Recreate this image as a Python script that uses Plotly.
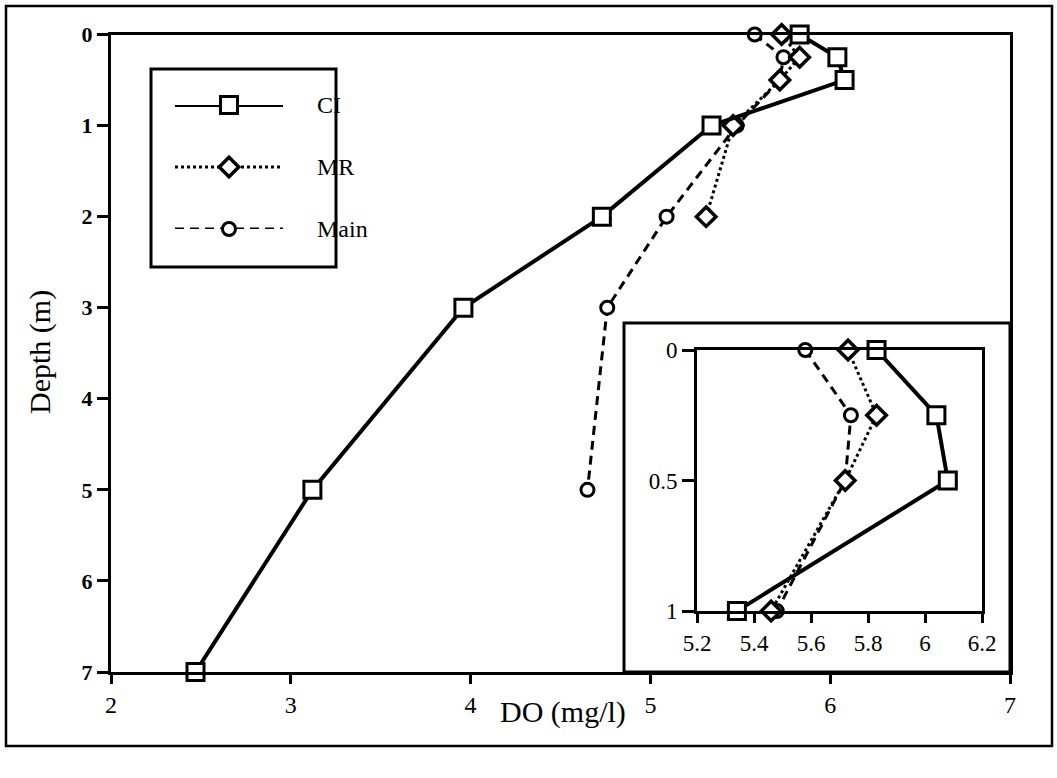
import plotly.graph_objects as go

# Dissolved-oxygen depth profiles for the three stations
ci_depth = [0, 0.25, 0.5, 1, 2, 3, 5, 7]
ci_do = [5.83, 6.04, 6.08, 5.34, 4.73, 3.96, 3.12, 2.47]

mr_depth = [0, 0.25, 0.5, 1, 2]
mr_do = [5.73, 5.83, 5.72, 5.46, 5.31]

main_depth = [0, 0.25, 0.5, 1, 2, 3, 5]
main_do = [5.58, 5.74, 5.72, 5.48, 5.09, 4.76, 4.65]

series_names = ["CI", "MR", "Main"]

main_x_ticks = [2, 3, 4, 5, 6, 7]
main_y_ticks = [0, 1, 2, 3, 4, 5, 6, 7]
inset_x_ticks = [5.2, 5.4, 5.6, 5.8, 6.0, 6.2]
inset_x_labels = ["5.2", "5.4", "5.6", "5.8", "6", "6.2"]
inset_y_ticks = [0, 0.5, 1]
inset_y_labels = ["0", "0.5", "1"]
inset_max_depth = 1

W, H = 1057, 778
FONT = "Liberation Serif"


def px(x):
    return x / W


def py(y):
    return 1 - y / H


styles = {
    "CI": dict(line=dict(color="black", width=4, dash="solid"),
               marker=dict(symbol="square", size=17, color="white",
                           line=dict(color="black", width=3))),
    "MR": dict(line=dict(color="black", width=3, dash="dot"),
               marker=dict(symbol="diamond", size=15, color="white",
                           line=dict(color="black", width=3.5))),
    "Main": dict(line=dict(color="black", width=3, dash="9px,6px"),
                 marker=dict(symbol="circle", size=13, color="white",
                             line=dict(color="black", width=3))),
}

profiles = {
    "CI": (ci_do, ci_depth),
    "MR": (mr_do, mr_depth),
    "Main": (main_do, main_depth),
}

fig = go.Figure()

draw_order = ["Main", "MR", "CI"]

# full-depth profiles
for name in draw_order:
    xs, ys = profiles[name]
    fig.add_trace(go.Scatter(x=xs, y=ys, mode="lines+markers", name=name,
                             showlegend=False, cliponaxis=False,
                             xaxis="x", yaxis="y", **styles[name]))

# surface-layer detail
for name in draw_order:
    xs, ys = profiles[name]
    sel = [(a, b) for a, b in zip(xs, ys) if b <= inset_max_depth]
    fig.add_trace(go.Scatter(x=[s[0] for s in sel], y=[s[1] for s in sel],
                             mode="lines+markers", name=name,
                             showlegend=False, cliponaxis=False,
                             xaxis="x2", yaxis="y2", **styles[name]))

# legend key drawn on its own helper axes
for row, name in enumerate(series_names):
    st = styles[name]
    fig.add_trace(go.Scatter(x=[0, 1], y=[row, row], mode="lines",
                             line=st["line"], showlegend=False,
                             cliponaxis=False, hoverinfo="skip",
                             xaxis="x3", yaxis="y3"))
    fig.add_trace(go.Scatter(x=[0.5], y=[row], mode="markers",
                             marker=st["marker"], showlegend=False,
                             cliponaxis=False, hoverinfo="skip",
                             xaxis="x3", yaxis="y3"))

axis_common = dict(showline=True, linecolor="black", linewidth=3,
                   mirror=True, ticks="outside", tickcolor="black",
                   tickwidth=3, showgrid=False, zeroline=False,
                   fixedrange=True, automargin=False)

fig.update_layout(
    template="none",
    width=W, height=H,
    margin=dict(l=0, r=0, t=0, b=0, pad=0, autoexpand=False),
    showlegend=False,
    paper_bgcolor="white",
    plot_bgcolor="rgba(0,0,0,0)",
    font=dict(family=FONT, color="black"),
    xaxis=dict(domain=[px(111), px(1010)], range=[2, 7], anchor="y",
               tickvals=main_x_ticks, ticklen=9,
               tickfont=dict(family=FONT, size=24), **axis_common),
    yaxis=dict(domain=[py(672), py(34.5)], range=[7, 0], anchor="x",
               tickvals=main_y_ticks, ticklen=11,
               tickfont=dict(family=FONT, size=22, weight="bold"),
               **axis_common),
    xaxis2=dict(domain=[px(697), px(982)], range=[5.2, 6.2], anchor="y2",
                tickvals=inset_x_ticks, ticktext=inset_x_labels, ticklen=9,
                tickfont=dict(family=FONT, size=23), **axis_common),
    yaxis2=dict(domain=[py(611), py(350)], range=[1, 0], anchor="x2",
                tickvals=inset_y_ticks, ticktext=inset_y_labels, ticklen=12,
                tickfont=dict(family=FONT, size=23), **axis_common),
    xaxis3=dict(domain=[px(175), px(283)], range=[0, 1], anchor="y3",
                visible=False, fixedrange=True, automargin=False),
    yaxis3=dict(domain=[py(229), py(105)], range=[2, 0], anchor="x3",
                visible=False, fixedrange=True, automargin=False),
    shapes=[
        # outer frame
        dict(type="rect", xref="paper", yref="paper", layer="below",
             x0=px(6), x1=px(1052), y0=py(746), y1=py(6),
             line=dict(color="black", width=2.5)),
        # legend box
        dict(type="rect", xref="paper", yref="paper", layer="below",
             x0=px(151), x1=px(336), y0=py(267), y1=py(69),
             line=dict(color="black", width=3)),
        # inset frame
        dict(type="rect", xref="paper", yref="paper", layer="below",
             x0=px(624), x1=px(1010), y0=py(672), y1=py(323),
             line=dict(color="black", width=3)),
    ],
    annotations=[
        dict(text="Depth (m)", xref="paper", yref="paper", x=px(40),
             y=py(352), textangle=-90, showarrow=False,
             xanchor="center", yanchor="middle",
             font=dict(family=FONT, size=30)),
        dict(text="DO (mg/l)", xref="paper", yref="paper", x=px(563),
             y=py(712), showarrow=False, xanchor="center", yanchor="middle",
             font=dict(family=FONT, size=30)),
    ] + [
        dict(text=name, xref="paper", yref="paper", x=px(315),
             y=py(ry), xanchor="left", yanchor="middle", showarrow=False,
             font=dict(family=FONT, size=24))
        for name, ry in zip(series_names, [105, 167, 229])
    ],
)

page_setup = (
    "document.documentElement.style.margin='0';"
    "document.body.style.margin='0';"
    "document.documentElement.style.overflow='hidden';"
    "document.body.style.overflow='hidden';"
)

fig.write_html("out.html", post_script=page_setup)
